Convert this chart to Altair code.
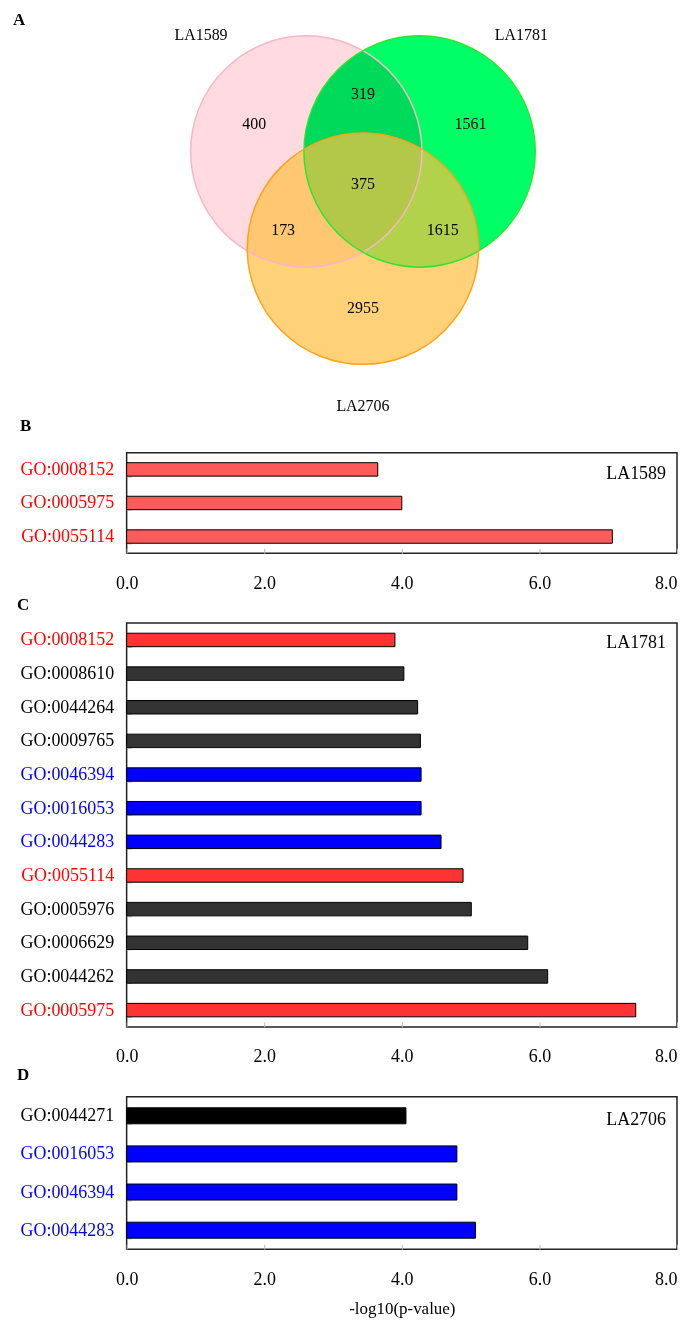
import json
import math
import altair as alt
import pandas as pd

FONT = "Liberation Serif"

# ---------------- data ----------------
venn_sets = ["LA1589", "LA1781", "LA2706"]
venn_cx = [-0.49, 0.49, 0.0]
venn_cy = [0.42, 0.42, -0.42]
venn_label_x = [-1.40, 1.37, 0.0]
venn_label_y = [1.43, 1.43, -1.78]

region_counts = [400, 319, 1561, 375, 173, 1615, 2955]
region_x = [-0.94, 0.0, 0.93, 0.0, -0.69, 0.69, 0.0]
region_y = [0.66, 0.92, 0.66, 0.135, -0.26, -0.26, -0.93]

b_terms = ["GO:0008152", "GO:0005975", "GO:0055114"]
b_values = [3.65, 4.00, 7.06]
b_groups = ["red", "red", "red"]

c_terms = ["GO:0008152", "GO:0008610", "GO:0044264", "GO:0009765",
           "GO:0046394", "GO:0016053", "GO:0044283", "GO:0055114",
           "GO:0005976", "GO:0006629", "GO:0044262", "GO:0005975"]
c_values = [3.90, 4.03, 4.23, 4.27, 4.28, 4.28, 4.57, 4.89, 5.01, 5.83, 6.12, 7.40]
c_groups = ["red", "black", "black", "black", "blue", "blue", "blue", "red",
            "black", "black", "black", "red"]

d_terms = ["GO:0044271", "GO:0016053", "GO:0046394", "GO:0044283"]
d_values = [4.06, 4.80, 4.80, 5.07]
d_groups = ["black", "blue", "blue", "blue"]

x_ticks = [0, 2, 4, 6, 8]

# ---------------- layout / style ----------------
PLOT_W = 552
VENN_H = 374
R_PX = 116
VENN_X0 = 237
VENN_Y0 = 190.7
CIRCLE_SIZE = (2 * R_PX) ** 2   # vega circle symbol: r = sqrt(size) / 2

venn_fill = ["#FFDAE0", "#00FF66", "#FFBF41"]
venn_stroke = ["#F4B8C6", "#2EE62E", "#FFA31A"]
LABEL_COLORS = {"red": "#FF0000", "blue": "#0000FF", "black": "#000000"}

xs = alt.Scale(domain=[-VENN_X0 / R_PX, (PLOT_W - VENN_X0) / R_PX], nice=False, zero=False)
ys = alt.Scale(domain=[-(VENN_H - VENN_Y0) / R_PX, VENN_Y0 / R_PX], nice=False, zero=False)


def venn_chart():
    layers = []
    for i in range(3):
        df = pd.DataFrame({"cx": [venn_cx[i]], "cy": [venn_cy[i]]})
        kw = dict(size=CIRCLE_SIZE, color=venn_fill[i], opacity=1.0)
        if i == 1:
            kw["blend"] = "multiply"
        if i == 2:
            kw["opacity"] = 0.7
        layers.append(
            alt.Chart(df).mark_circle(**kw).encode(
                x=alt.X("cx:Q", scale=xs, axis=None),
                y=alt.Y("cy:Q", scale=ys, axis=None),
            )
        )
    for i in range(3):
        df = pd.DataFrame({"cx": [venn_cx[i]], "cy": [venn_cy[i]]})
        layers.append(
            alt.Chart(df).mark_point(shape="circle", filled=False, size=CIRCLE_SIZE,
                                     color=venn_stroke[i], strokeWidth=1.5, opacity=1.0).encode(
                x=alt.X("cx:Q", scale=xs, axis=None),
                y=alt.Y("cy:Q", scale=ys, axis=None),
            )
        )
    reg = pd.DataFrame({"x": region_x, "y": region_y, "n": region_counts})
    layers.append(
        alt.Chart(reg).mark_text(font=FONT, fontSize=16, color="#000000").encode(
            x=alt.X("x:Q", scale=xs, axis=None),
            y=alt.Y("y:Q", scale=ys, axis=None),
            text="n:Q",
        )
    )
    lab = pd.DataFrame({"x": venn_label_x, "y": venn_label_y, "t": venn_sets})
    layers.append(
        alt.Chart(lab).mark_text(font=FONT, fontSize=16, color="#000000").encode(
            x=alt.X("x:Q", scale=xs, axis=None),
            y=alt.Y("y:Q", scale=ys, axis=None),
            text="t:N",
        )
    )
    layers.append(
        alt.Chart(pd.DataFrame({"t": ["A"]})).mark_text(
            font=FONT, fontSize=17, fontWeight="bold", align="left", color="#000000"
        ).encode(x=alt.value(-114), y=alt.value(10), text="t:N")
    )
    return alt.layer(*layers).properties(width=PLOT_W, height=VENN_H,
                                         view=alt.ViewBackground(stroke=None))


def bar_panel(terms, values, groups, palette, tag, letter, letter_x, letter_y,
              height, pad_inner, tag_y, title=None):
    df = pd.DataFrame({"term": terms, "value": values, "group": groups})
    conds = []
    for g in ["red", "blue"]:
        members = [t for t, gg in zip(terms, groups) if gg == g]
        if members:
            conds.append({"test": "indexof(%s, datum.value) >= 0" % json.dumps(members),
                          "value": LABEL_COLORS[g]})
    if len(conds) == 0:
        label_color = "#000000"
    elif len(conds) == 1:
        label_color = {"condition": conds[0], "value": "#000000"}
    else:
        label_color = {"condition": conds, "value": "#000000"}

    x_axis_kw = dict(
        values=x_ticks, format=".1f", domain=False, grid=False,
        ticks=True, tickSize=5, tickColor="#BBBBBB", offset=-5,
        labelPadding=21, labelFont=FONT, labelFontSize=18, labelColor="#000000",
        labelAlign={"condition": {"test": "datum.value == 8", "value": "right"}, "value": "center"},
        title=title,
    )
    if title:
        x_axis_kw.update(titleFont=FONT, titleFontSize=17, titleFontWeight="normal",
                         titlePadding=12, titleColor="#000000")

    bars = alt.Chart(df).mark_bar(stroke="#000000", strokeWidth=1).encode(
        x=alt.X("value:Q", scale=alt.Scale(domain=[0, 8], nice=False, zero=True),
                axis=alt.Axis(**x_axis_kw)),
        y=alt.Y("term:N", sort=terms,
                scale=alt.Scale(paddingInner=pad_inner, paddingOuter=pad_inner / 2),
                axis=alt.Axis(title=None, domain=False, grid=False, ticks=True,
                              tickBand="extent", tickSize=5, tickColor="#BBBBBB",
                              offset=-5, labelPadding=13, labelFont=FONT,
                              labelFontSize=18, labelColor=label_color)),
        color=alt.Color("group:N",
                        scale=alt.Scale(domain=list(palette.keys()), range=list(palette.values())),
                        legend=None),
    )
    tag_text = alt.Chart(pd.DataFrame({"t": [tag]})).mark_text(
        font=FONT, fontSize=18, align="right", baseline="middle", color="#000000"
    ).encode(x=alt.value(PLOT_W - 11), y=alt.value(tag_y), text="t:N")
    letter_text = alt.Chart(pd.DataFrame({"t": [letter]})).mark_text(
        font=FONT, fontSize=17, fontWeight="bold", align="left", baseline="middle", color="#000000"
    ).encode(x=alt.value(letter_x), y=alt.value(letter_y), text="t:N")
    return alt.layer(bars, tag_text, letter_text).properties(
        width=PLOT_W, height=height,
        view=alt.ViewBackground(stroke="#222222", strokeWidth=1.5),
    )


panel_b = bar_panel(b_terms, b_values, b_groups, {"red": "#FF5A5A"},
                    "LA1589", "B", -107, -27, 101, 0.6, 21)
panel_c = bar_panel(c_terms, c_values, c_groups,
                    {"red": "#FF3333", "black": "#333333", "blue": "#0000FF"},
                    "LA1781", "C", -110, -18, 405, 0.6, 20)
panel_d = bar_panel(d_terms, d_values, d_groups,
                    {"black": "#000000", "blue": "#0000FF"},
                    "LA2706", "D", -110, -22, 153, 0.58, 23, title="-log10(p-value)")

chart = alt.vconcat(venn_chart(), panel_b, panel_c, panel_d, spacing=70, bounds="flush").resolve_scale(
    color="independent"
).properties(
    padding={"left": 5, "top": 0, "right": 0, "bottom": 0},
    background="#FFFFFF",
).configure_view(stroke=None)

chart.save("out.html", embed_options={"renderer": "svg", "actions": False})
